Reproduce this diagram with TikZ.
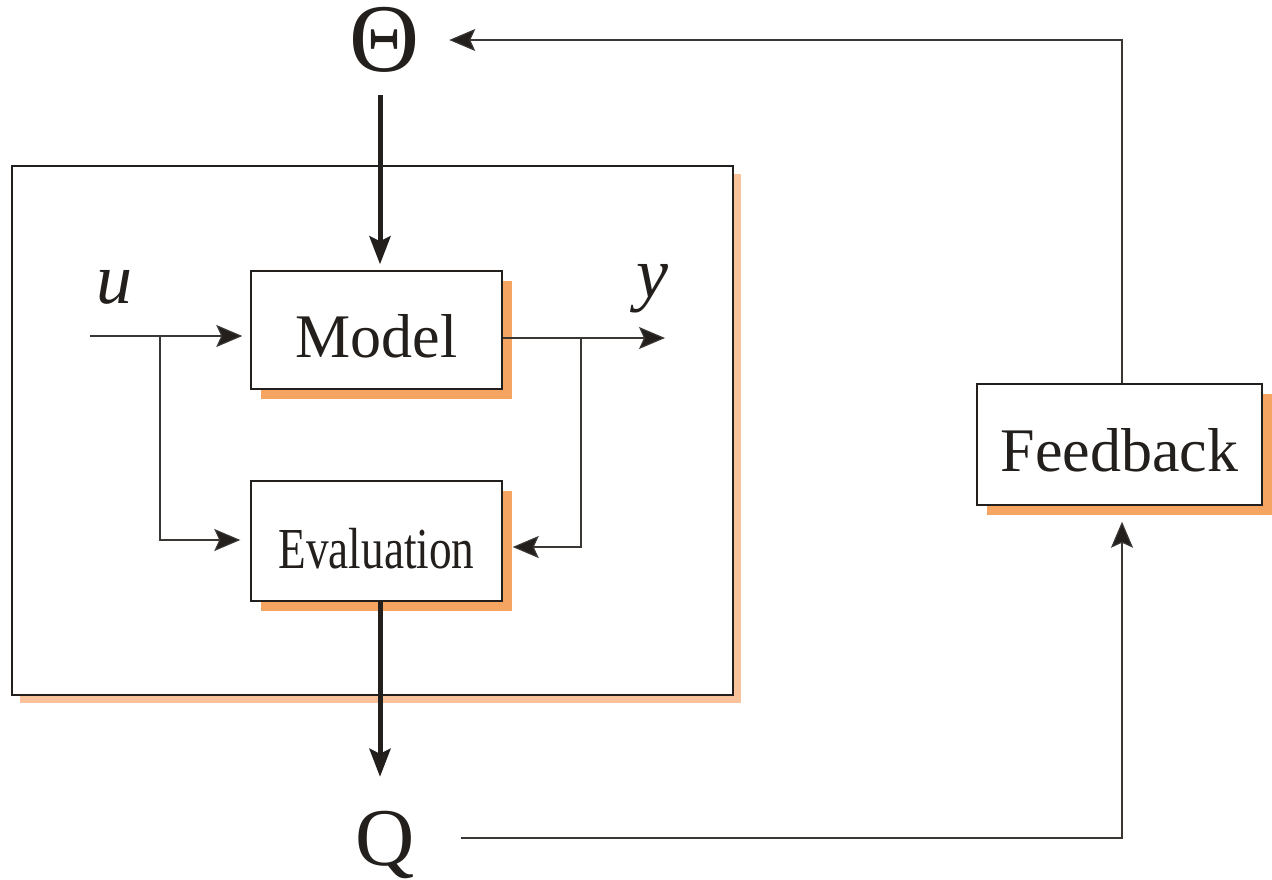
\documentclass[tikz,border=0pt]{standalone}
\usepackage{fontspec}
\setmainfont{Liberation Serif}
\usetikzlibrary{arrows.meta,shadows,calc}
\definecolor{ink}{HTML}{231F1C}
\definecolor{wire}{HTML}{3A3633}
\definecolor{shadowdark}{HTML}{F5A462}
\definecolor{shadowlight}{HTML}{F9C29A}
\tikzset{
  blockbox/.style={draw=ink, line width=1.4pt, fill=white, inner sep=0pt,
    minimum width=251pt, text height=54pt, text depth=0pt, text=ink,
    font=\fontsize{62}{62}\selectfont,
    general shadow={fill=shadowdark, shadow xshift=10pt, shadow yshift=-10pt}},
  framebox/.style={draw=ink, line width=1.4pt, fill=white, inner sep=0pt,
    minimum width=721pt, minimum height=529pt,
    general shadow={fill=shadowlight, shadow xshift=8pt, shadow yshift=-8pt}},
  signal/.style={text=ink, inner sep=0pt},
  thinwire/.style={draw=wire, line width=1.2pt},
  thinarrow/.style={thinwire, -{Stealth[length=26pt,width=22pt,inset=5pt,fill=ink]}},
  thickarrow/.style={draw=ink, line width=5pt, -{Stealth[length=28pt,width=21pt,inset=5pt]}},
}
\begin{document}
\begin{tikzpicture}[x=1pt,y=-1pt]
\useasboundingbox (0,0) rectangle (1272,879);

% enclosing frame and blocks
\node[framebox] (frame) at (372.5,430.5) {};
\node[blockbox, minimum height=118pt] (model) at (376.5,330) {Model};
\node[blockbox, minimum height=120pt] (eval) at (376.5,541)
  {\scalebox{0.78}[1]{\fontsize{58}{58}\selectfont Evaluation}};
\node[blockbox, minimum width=285pt, minimum height=121pt] (fb) at (1119.5,444.5) {Feedback};

% signals
\node[signal, anchor=base, text height=66pt, text depth=0pt, font=\fontsize{97}{97}\selectfont] (theta) at (385,71) {Θ};
\node[signal, anchor=base, text height=57pt, text depth=13pt, font=\fontsize{82}{82}\selectfont] (Q) at (385,865) {Q};
\node[signal, anchor=base west, font=\fontsize{72}{72}\selectfont\itshape] (u) at (96,303) {u};
\node[signal, anchor=base west, font=\fontsize{72}{72}\selectfont\itshape] (y) at (636,297) {y};

% routing columns and rows
\coordinate (colx) at (380,0);
\coordinate (fbx) at (1122,0);
\coordinate (thetarow) at (0,40);
\coordinate (qrow) at (0,838);
\coordinate (uin) at (90,336);
\coordinate (usplit) at (160,336);
\coordinate (evalin) at (160,540);
\coordinate (yout) at (665,338);
\coordinate (ysplit) at (581,338);
\coordinate (evalret) at (581,547);

% parameters into the model, quality out of the evaluation
\draw[thickarrow, shorten <=24pt, shorten >=6pt] (theta.south -| colx) -- (model.north -| colx);
\draw[thickarrow, shorten >=31pt] (eval.south -| colx) -- (Q.north -| colx);

% input u
\draw[thinarrow, shorten >=8pt] (uin) -- (uin -| model.west);
\draw[thinarrow, shorten >=10pt] (usplit) -- (evalin) -- (evalin -| eval.west);

% output y
\draw[thinarrow] (yout -| model.east) -- (yout);
\draw[thinarrow, shorten >=10pt] (ysplit) -- (evalret) -- (evalret -| eval.east);

% feedback loop
\draw[thinarrow, shorten <=46pt, shorten >=16pt] (Q.east |- qrow) -| (fb.south -| fbx);
\draw[thinarrow, shorten >=29pt] (fb.north -| fbx) |- (theta.east |- thetarow);
\end{tikzpicture}
\end{document}
